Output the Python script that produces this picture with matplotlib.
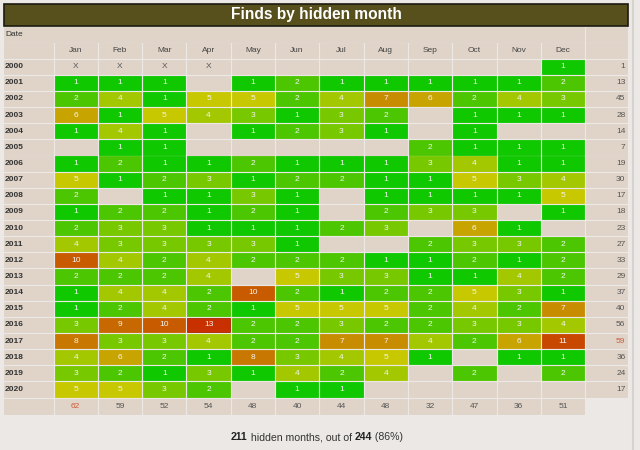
import matplotlib.pyplot as plt
from matplotlib.patches import Rectangle

plt.rcParams['font.family'] = ['Liberation Sans', 'DejaVu Sans']

# data: finds per hidden month, 0 = none, -1 = month did not exist yet (X)
title = 'Finds by hidden month'
months = ['Jan', 'Feb', 'Mar', 'Apr', 'May', 'Jun', 'Jul', 'Aug', 'Sep', 'Oct', 'Nov', 'Dec']
years = list(range(2000, 2021))
counts = [
    [-1, -1, -1, -1, 0, 0, 0, 0, 0, 0, 0, 1],
    [1, 1, 1, 0, 1, 2, 1, 1, 1, 1, 1, 2],
    [2, 4, 1, 5, 5, 2, 4, 7, 6, 2, 4, 3],
    [6, 1, 5, 4, 3, 1, 3, 2, 0, 1, 1, 1],
    [1, 4, 1, 0, 1, 2, 3, 1, 0, 1, 0, 0],
    [0, 1, 1, 0, 0, 0, 0, 0, 2, 1, 1, 1],
    [1, 2, 1, 1, 2, 1, 1, 1, 3, 4, 1, 1],
    [5, 1, 2, 3, 1, 2, 2, 1, 1, 5, 3, 4],
    [2, 0, 1, 1, 3, 1, 0, 1, 1, 1, 1, 5],
    [1, 2, 2, 1, 2, 1, 0, 2, 3, 3, 0, 1],
    [2, 3, 3, 1, 1, 1, 2, 3, 0, 6, 1, 0],
    [4, 3, 3, 3, 3, 1, 0, 0, 2, 3, 3, 2],
    [10, 4, 2, 4, 2, 2, 2, 1, 1, 2, 1, 2],
    [2, 2, 2, 4, 0, 5, 3, 3, 1, 1, 4, 2],
    [1, 4, 4, 2, 10, 2, 1, 2, 2, 5, 3, 1],
    [1, 2, 4, 2, 1, 5, 5, 5, 2, 4, 2, 7],
    [3, 9, 10, 13, 2, 2, 3, 2, 2, 3, 3, 4],
    [8, 3, 3, 4, 2, 2, 7, 7, 4, 2, 6, 11],
    [4, 6, 2, 1, 8, 3, 4, 5, 1, 0, 1, 1],
    [3, 2, 1, 3, 1, 4, 2, 4, 0, 2, 0, 2],
    [5, 5, 3, 2, 0, 1, 1, 0, 0, 0, 0, 0],
]
hidden_months = 211
total_months = 244

row_totals = [sum(v for v in row if v > 0) for row in counts]
col_totals = [sum(max(row[j], 0) for row in counts) for j in range(12)]

# cell colours, green (few) to red (many)
palette = {1: '#10c800', 2: '#4cc600', 3: '#78c800', 4: '#a4c800', 5: '#c8c800',
           6: '#c8a400', 7: '#c88c00', 8: '#c87800', 9: '#c86800', 10: '#c85a00',
           11: '#c84800', 12: '#c83c00', 13: '#c83000'}
page_bg = '#ebe8e5'
cell_bg = '#e0d4c8'
red_txt = '#d05a3c'

fig = plt.figure(figsize=(6.4, 4.5), dpi=100, facecolor=page_bg)
ax = fig.add_axes([0, 0, 1, 1])
ax.set_xlim(0, 640)
ax.set_ylim(450, 0)
ax.axis('off')

# layout in pixels
lab_x, lab_w = 4, 49
col_x0, col_pitch, col_w = 54.5, 44.3, 42.3
tot_x, tot_w = 586, 41
row_y0, row_pitch, row_h = 59.6, 16.14, 14.2
fs = 6.0

def cell(x, y, w, h, color=cell_bg, edge=None):
    ax.add_patch(Rectangle((x, y), w, h, facecolor=color,
                           edgecolor=edge if edge else color, lw=0.6))

# title bar
ax.add_patch(Rectangle((3.5, 3.5), 624, 22.5, facecolor='#574f1c', edgecolor='#1c1a10', lw=1.2))
ax.text(316, 15, title, color='white', fontsize=11.2, fontweight='bold', ha='center', va='center')

# Date row and header row
cell(lab_x, 27, col_x0 + 12 * col_pitch - 2 - lab_x, 14.5)
cell(tot_x, 27, tot_w, 14.5)
ax.text(lab_x + 1, 34.5, 'Date', fontsize=fs, color='#333333', va='center')
cell(lab_x, 43, lab_w, 15)
cell(tot_x, 43, tot_w, 15)
for j, m in enumerate(months):
    x = col_x0 + j * col_pitch
    cell(x, 43, col_w, 15)
    ax.text(x + col_w / 2, 50, m, fontsize=fs, color='#444444', ha='center', va='center')

# body
max_row = max(row_totals)
for i, yr in enumerate(years):
    y = row_y0 + i * row_pitch
    cell(lab_x, y, lab_w, row_h)
    ax.text(lab_x + 1, y + row_h / 2, str(yr), fontsize=fs, fontweight='bold',
            color='#333333', va='center')
    for j in range(12):
        v = counts[i][j]
        x = col_x0 + j * col_pitch
        if v > 0:
            col = palette[v]
            edge = '#a82400' if v == max(palette) else col
            cell(x, y, col_w, row_h, col, edge)
            ax.text(x + col_w / 2, y + row_h / 2, str(v), fontsize=fs,
                    color='#f4f4ee', ha='center', va='center')
        else:
            cell(x, y, col_w, row_h)
            if v < 0:
                ax.text(x + col_w / 2, y + row_h / 2, 'X', fontsize=fs,
                        color='#555555', ha='center', va='center')
    cell(tot_x, y, tot_w, row_h)
    ax.text(tot_x + tot_w - 1.5, y + row_h / 2, str(row_totals[i]), fontsize=fs,
            color=red_txt if row_totals[i] == max_row else '#555555',
            ha='right', va='center')

# column totals
y = row_y0 + len(years) * row_pitch
cell(lab_x, y, lab_w, 15)
max_col = max(col_totals)
for j, t in enumerate(col_totals):
    x = col_x0 + j * col_pitch
    cell(x, y, col_w, 15)
    ax.text(x + col_w / 2, y + 7.5, str(t), fontsize=fs,
            color=red_txt if t == max_col else '#555555', ha='center', va='center')

# right border line
ax.plot([632.5, 632.5], [0, 450], color='#d6d2ce', lw=1.5)

# footer
pct = round(100 * hidden_months / total_months)
parts = [(str(hidden_months), 'bold', '#222222'), (' hidden months, out of ', 'normal', '#333333'),
         (str(total_months), 'bold', '#222222'), (' (%d%%)' % pct, 'normal', '#333333')]
fig.canvas.draw()
r = fig.canvas.get_renderer()
objs = []
for s, w, c in parts:
    objs.append(ax.text(0, 437, s, fontsize=7.6, fontweight=w, color=c, va='center'))
widths = [o.get_window_extent(r).width for o in objs]
x = 317 - sum(widths) / 2
for o, w in zip(objs, widths):
    o.set_x(x)
    x += w

fig.savefig('out.png', dpi=100, facecolor=page_bg)
